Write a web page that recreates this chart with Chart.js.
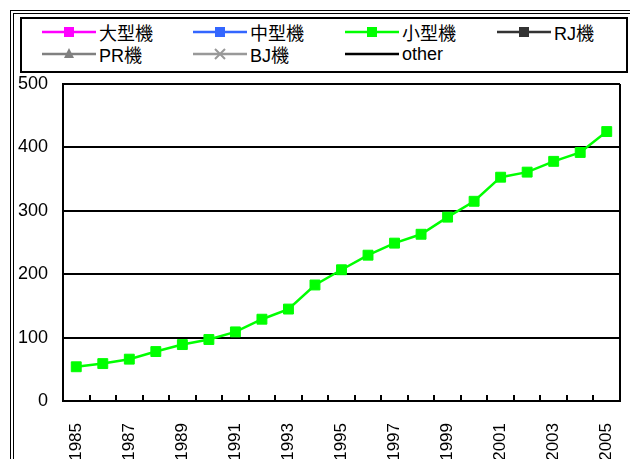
<!DOCTYPE html>
<html>
<head>
<meta charset="utf-8">
<script src="https://cdn.jsdelivr.net/npm/chart.js@4"></script>
<style>
body{margin:0;width:630px;height:459px;overflow:hidden;background:#fff;font-family:"Liberation Sans",Arial,"Noto Sans CJK JP",sans-serif;}
#wrap{position:relative;width:630px;height:459px;}
#outer{position:absolute;left:10px;top:10px;width:700px;height:500px;border:4px double #000;}
#legend{position:absolute;left:20px;top:17px;width:604px;height:52px;border:2px solid #000;}
.item{position:absolute;height:20px;display:flex;align-items:center;font-size:18px;color:#000;white-space:nowrap;}
.item svg{margin-right:3px;}
#c{position:absolute;left:0;top:0;}
</style>
</head>
<body>
<div id="wrap">
<div id="outer"></div>
<div id="legend"></div>
<canvas id="c" width="630" height="459"></canvas>
</div>
<script>
const years=["1985","1986","1987","1988","1989","1990","1991","1992","1993","1994","1995","1996","1997","1998","1999","2000","2001","2002","2003","2004","2005"];
const large=[];
const medium=[];
const small=[54,59,66,78,89,97,109,129,145,183,207,230,249,263,290,315,353,361,378,392,425];
const rj=[];
const pr=[];
const bj=[];
const other=[];
const yTicks=[0,100,200,300,400,500];

const series=[
    {name:"大型機",data:large,color:"#ff00ff",marker:"rect"},
    {name:"中型機",data:medium,color:"#3366ff",marker:"rect"},
    {name:"小型機",data:small,color:"#00ff00",marker:"rect"},
    {name:"RJ機",data:rj,color:"#333333",marker:"rect"},
    {name:"PR機",data:pr,color:"#808080",marker:"triangle"},
    {name:"BJ機",data:bj,color:"#999999",marker:"cross"},
    {name:"other",data:other,color:"#000000",marker:"none"}
];

// legend drawn as html
function icon(s){
    let m="";
    if(s.marker=="rect")m='<rect x="22" y="5" width="10" height="10" fill="'+s.color+'"/>';
    if(s.marker=="triangle")m='<polygon points="27,4 32,14 22,14" fill="'+s.color+'"/>';
    if(s.marker=="cross")m='<path d="M22,5 L32,15 M32,5 L22,15" stroke="'+s.color+'" stroke-width="2"/>';
    return '<svg width="54" height="20"><line x1="0" y1="10" x2="54" y2="10" stroke="'+s.color+'" stroke-width="2.5"/>'+m+'</svg>';
}
const legend=document.getElementById("legend");
const colX=[20,171,323,475];
series.forEach((s,i)=>{
    const d=document.createElement("div");
    d.className="item";
    d.style.left=colX[i%4]+"px";
    d.style.top=(i<4?3:25)+"px";
    d.innerHTML=icon(s)+"<span>"+s.name+"</span>";
    legend.appendChild(d);
});

const frame={
    id:"frame",
    afterDraw(chart){
        const a=chart.chartArea,ctx=chart.ctx;
        ctx.save();
        ctx.strokeStyle="#000";
        ctx.lineWidth=2;
        ctx.beginPath();
        ctx.moveTo(Math.round(a.right),a.top);
        ctx.lineTo(Math.round(a.right),a.bottom);
        ctx.stroke();
        ctx.restore();
    }
};

const family='"Liberation Sans", Arial, "Noto Sans CJK JP", sans-serif';

new Chart(document.getElementById("c"),{
    type:"line",
    data:{
        labels:years,
        datasets:series.map(s=>({
            label:s.name,
            data:s.data,
            borderColor:s.color,
            backgroundColor:s.color,
            borderWidth:2.5,
            pointStyle:s.marker=="none"?false:s.marker,
            pointRadius:7,
            pointBorderWidth:1,
            tension:0
        }))
    },
    options:{
        responsive:false,
        animation:false,
        layout:{padding:{top:84,right:10,left:0,bottom:0}},
        plugins:{legend:{display:false},tooltip:{enabled:false}},
        scales:{
            x:{
                offset:true,
                grid:{offset:true,drawOnChartArea:false,color:"#000",lineWidth:2,tickLength:-6},
                border:{color:"#000",width:2},
                ticks:{
                    autoSkip:false,minRotation:90,maxRotation:90,padding:28,color:"#000",font:{family:family,size:17},
                    callback:function(v,i){return i%2==0?this.getLabelForValue(v):"";}
                },
                afterFit(s){s.height=58;s.paddingLeft=0;s.paddingRight=0;}
            },
            y:{
                min:yTicks[0],max:yTicks[yTicks.length-1],
                grid:{color:"#000",lineWidth:2,drawTicks:false},
                border:{color:"#000",width:2},
                ticks:{stepSize:100,padding:15,color:"#000",font:{family:family,size:18}},
                afterBuildTicks(s){s.ticks=yTicks.map(v=>({value:v}));},
                afterFit(s){s.width=63;s.paddingTop=0;s.paddingBottom=0;}
            }
        }
    },
    plugins:[frame]
});
</script>
</body>
</html>
